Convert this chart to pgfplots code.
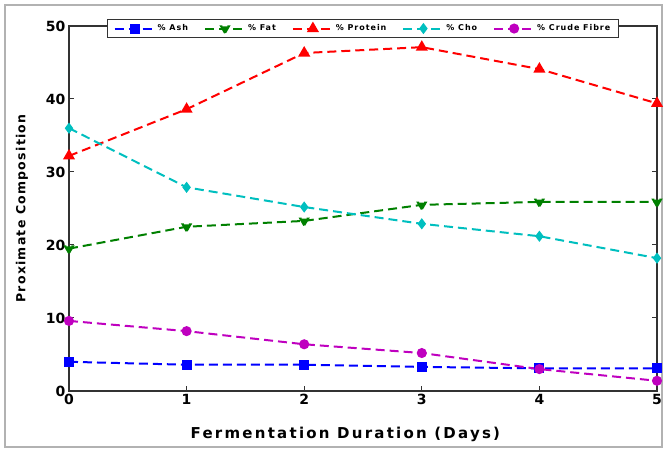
\documentclass[border=0pt]{standalone}
\usepackage{pgfplots}
\pgfplotsset{compat=1.18}
\usepackage{fontspec}
\setmainfont{DejaVu Sans}
\newfontfamily\widefont[LetterSpace=15]{DejaVu Sans}
\newfontfamily\ylfont[LetterSpace=10]{DejaVu Sans}
\newfontfamily\legfont[LetterSpace=12]{DejaVu Sans}
\definecolor{cblue}{RGB}{0,0,255}
\definecolor{cgreen}{RGB}{0,128,0}
\definecolor{cred}{RGB}{255,0,0}
\definecolor{ccyan}{RGB}{0,191,191}
\definecolor{cmag}{RGB}{191,0,191}
\begin{document}
\begin{tikzpicture}
\useasboundingbox (0pt,0pt) rectangle (665pt,449pt);
\draw[gray!60, line width=1.2pt] (5pt,2pt) rectangle (662pt,444pt);
\begin{axis}[
  at={(69pt,58pt)}, anchor=south west,
  width=588pt, height=365pt, scale only axis,
  xmin=0, xmax=5, ymin=0, ymax=50,
  xtick={0,1,2,3,4,5}, ytick={0,10,20,30,40,50},
  tick align=inside, major tick length=5pt,
  axis line style={line width=1.2pt, black!80},
  tick style={line width=1pt, black!80},
  /pgf/number format/assume math mode=true,
  ticklabel style={font=\bfseries\fontsize{14}{14}\selectfont},
  xlabel={Fermentation Duration (Days)},
  ylabel={Proximate Composition},
  xlabel style={font=\widefont\bfseries\fontsize{15}{15}\selectfont, at={(axis description cs:0.47,0)}, anchor=north, yshift=-33pt},
  ylabel style={font=\ylfont\bfseries\fontsize{12.5}{12.5}\selectfont, at={(axis description cs:-0.08,0.5)}, anchor=center},
  legend columns=5,
  legend style={at={(axis description cs:0.5,0.993)}, anchor=center, font=\legfont\bfseries\fontsize{8}{9}\selectfont, draw=black!80, line width=1pt, inner ysep=3pt, inner xsep=6pt, /tikz/every even column/.append style={column sep=14pt}},
  legend image code/.code={\draw[mark repeat=2,mark phase=2] plot coordinates {(0pt,0pt) (20pt,0pt) (40pt,0pt)};},
  every axis plot/.append style={line width=2pt, dash pattern=on 9pt off 5pt, mark size=4pt, mark options={solid}},
]
\addplot[cblue, mark=square*] coordinates {(0,4.0) (1,3.6) (2,3.6) (3,3.3) (4,3.1) (5,3.1)};
\addlegendentry{\% Ash}
\addplot[cgreen, mark=triangle*, mark size=4.5pt, mark options={rotate=180}] coordinates {(0,19.5) (1,22.5) (2,23.3) (3,25.5) (4,25.9) (5,25.9)};
\addlegendentry{\% Fat}
\addplot[cred, mark=triangle*, mark size=5pt] coordinates {(0,32.2) (1,38.6) (2,46.3) (3,47.1) (4,44.1) (5,39.4)};
\addlegendentry{\% Protein}
\addplot[ccyan, mark=diamond*] coordinates {(0,36.0) (1,27.9) (2,25.2) (3,22.9) (4,21.2) (5,18.2)};
\addlegendentry{\% Cho}
\addplot[cmag, mark=*] coordinates {(0,9.6) (1,8.2) (2,6.4) (3,5.2) (4,3.0) (5,1.4)};
\addlegendentry{\% Crude Fibre}
\end{axis}
\end{tikzpicture}
\end{document}
